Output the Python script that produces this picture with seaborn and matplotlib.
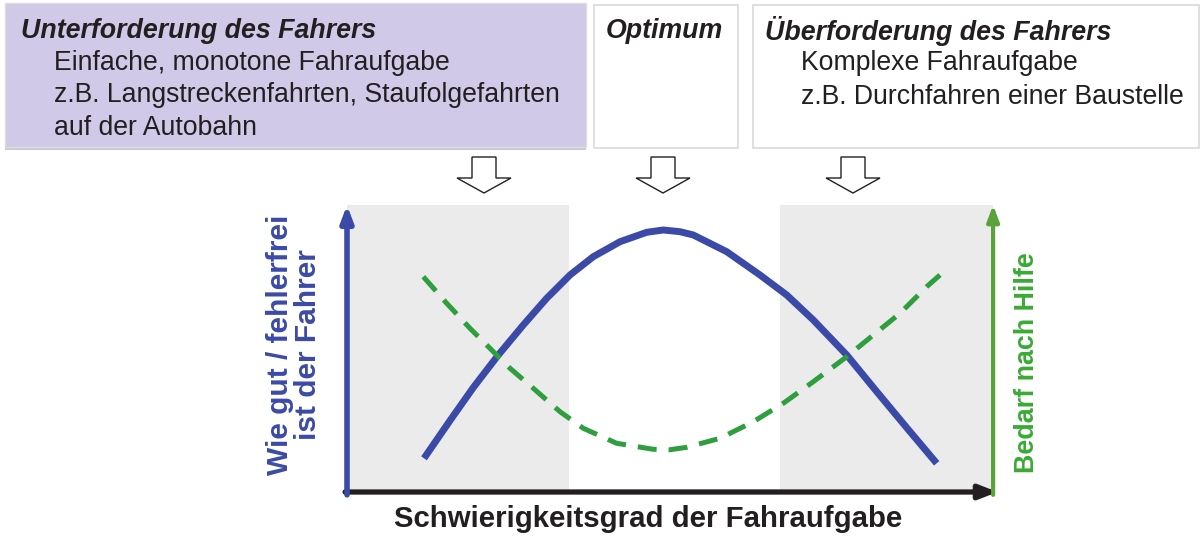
import numpy as np
import pandas as pd
import seaborn as sns
from matplotlib import pyplot as plt
from matplotlib.patches import Rectangle, Polygon

# curve data (x: Schwierigkeitsgrad 0-100, y: 0-100)
x_leistung = [11.85, 15.85, 19.43, 23.28, 27.12, 30.72, 34.31, 37.89, 42.0, 46.11, 48.66, 51.23, 53.28,
              58.42, 63.54, 67.65, 71.74, 76.88, 81.49, 86.11, 90.72]
y_leistung = [11.74, 24.9, 36.4, 47.74, 58.19, 67.49, 75.61, 81.99, 87.21, 90.49, 91.29, 90.70, 89.55,
              83.73, 75.61, 68.64, 59.93, 47.74, 35.0, 22.4, 10.0]

x_hilfe = [11.74, 15.34, 18.92, 22.51, 25.08, 28.66, 32.77, 36.35, 41.49, 47.12, 49.6, 52.26, 57.38,
           62.51, 67.12, 71.74, 76.88, 80.97, 85.08, 89.18, 91.23]
y_hilfe = [75.02, 65.75, 57.04, 48.89, 43.10, 36.13, 27.98, 22.20, 16.97, 14.88, 14.7, 15.57, 18.71,
           24.49, 30.91, 38.43, 47.14, 54.70, 62.26, 71.53, 75.61]

# shaded regions (Unterforderung / Ueberforderung)
bereiche = [(0, 34.15), (66.6, 99.4)]

titel = ["Unterforderung des Fahrers", "Optimum", "Überforderung des Fahrers"]
zeilen_unter = ["Einfache, monotone Fahraufgabe", "z.B. Langstreckenfahrten, Staufolgefahrten", "auf der Autobahn"]
zeilen_ueber = ["Komplexe Fahraufgabe", "z.B. Durchfahren einer Baustelle"]

blau = '#3A4AA6'
gruen = '#2E9E3E'
gruen_achse = '#5AA23A'
lila = '#D1C9E8'
schwarz = '#231F20'

#####-----#####

sns.set_theme(style='white')
plt.rcParams['font.family'] = ['Liberation Sans', 'DejaVu Sans']

W, H = 1202, 540
fig = plt.figure(figsize=(W / 100, H / 100), dpi=100)

# overlay in pixel coords for boxes and arrows
ov = fig.add_axes([0, 0, 1, 1])
ov.set_xlim(0, W)
ov.set_ylim(H, 0)
ov.axis('off')

# boxes
ov.add_patch(Rectangle((5, 3), 581, 147, facecolor='#C9C9D6', edgecolor='none'))
ov.add_patch(Rectangle((5, 3), 581, 144, facecolor=lila, edgecolor='#DDDDDD', lw=1))
ov.add_patch(Rectangle((594, 5), 144, 143, facecolor='white', edgecolor='#D9D9D9', lw=1.2))
ov.add_patch(Rectangle((753, 5), 446, 143, facecolor='white', edgecolor='#D9D9D9', lw=1.2))

fs_t = 19.3
fs_z = 19.2
ov.text(21, 31, titel[0], fontsize=fs_t, fontweight='bold', style='italic', color=schwarz, va='center')
for i, z in enumerate(zeilen_unter):
    ov.text(54, 63 + i * 32.3, z, fontsize=fs_z, color=schwarz, va='center')
ov.text(664, 31, titel[1], fontsize=fs_t, fontweight='bold', style='italic', color=schwarz, va='center', ha='center')
ov.text(765, 31, titel[2], fontsize=fs_t, fontweight='bold', style='italic', color=schwarz, va='center')
for i, z in enumerate(zeilen_ueber):
    ov.text(801, 63 + i * 33.5, z, fontsize=fs_z, color=schwarz, va='center')

# hollow down arrows
for cx in [484, 663, 853]:
    pts = [(cx - 12, 157), (cx + 12, 157), (cx + 12, 178), (cx + 27, 178),
           (cx, 193), (cx - 27, 178), (cx - 12, 178)]
    ov.add_patch(Polygon(pts, closed=True, facecolor='white', edgecolor=schwarz, lw=1))

# main chart
ax = fig.add_axes([347 / W, (H - 492) / H, 650 / W, 287 / H])
ax.set_xlim(0, 100)
ax.set_ylim(0, 100)
for a, b in bereiche:
    ax.axvspan(a, b, color='#EBEBEB', lw=0)

df_l = pd.DataFrame({'x': x_leistung, 'y': y_leistung})
df_h = pd.DataFrame({'x': x_hilfe, 'y': y_hilfe})
sns.lineplot(data=df_l, x='x', y='y', ax=ax, color=blau, lw=5, sort=False,
             solid_capstyle='butt', solid_joinstyle='round')
sns.lineplot(data=df_h, x='x', y='y', ax=ax, color=gruen, lw=3.6, sort=False, dashes=(3.8, 2.4))

for s in ax.spines.values():
    s.set_visible(False)
ax.set_xticks([])
ax.set_yticks([])
ax.set_xlabel('')
ax.set_ylabel('')

# axes arrows
ax.annotate('', xy=(100.1, 0), xytext=(-0.3, 0), xycoords='data',
            arrowprops=dict(arrowstyle='-|>,head_length=0.9,head_width=0.35', color=schwarz, lw=3.8,
                            shrinkA=0, shrinkB=0),
            annotation_clip=False)
ax.annotate('', xy=(0, 100), xytext=(0, -1), xycoords='data',
            arrowprops=dict(arrowstyle='-|>,head_length=0.8,head_width=0.3', color=blau, lw=4,
                            shrinkA=0, shrinkB=0),
            annotation_clip=False)
ax.annotate('', xy=(99.4, 100), xytext=(99.4, -1), xycoords='data',
            arrowprops=dict(arrowstyle='-|>,head_length=0.8,head_width=0.3', color=gruen_achse, lw=3,
                            shrinkA=0, shrinkB=0),
            annotation_clip=False)

ov.text(648, 519, 'Schwierigkeitsgrad der Fahraufgabe', fontsize=21.2, fontweight='bold',
        color=schwarz, ha='center', va='center')
ov.text(294, 345, 'Wie gut / fehlerfrei\nist der Fahrer', fontsize=21.5, fontweight='bold',
        color=blau, ha='center', va='center', rotation=90, linespacing=1.0)
ov.text(1027, 363, 'Bedarf nach Hilfe', fontsize=19.4, fontweight='bold',
        color='#3AAA35', ha='center', va='center', rotation=90)

plt.savefig('out.png', dpi=100)
